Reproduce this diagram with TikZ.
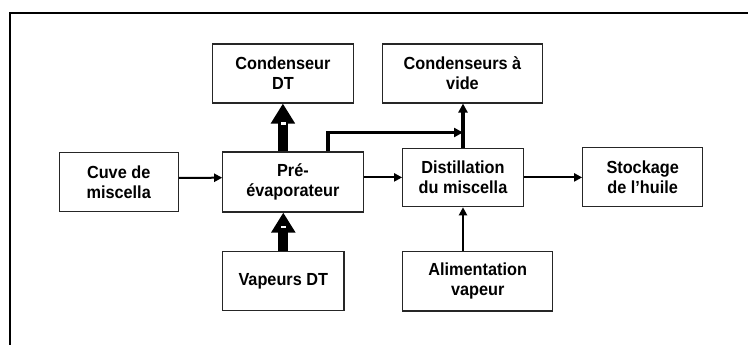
\documentclass[tikz,border=0pt]{standalone}
\usepackage{fontspec}
\setmainfont{Liberation Sans}[FakeStretch=0.93]
\usetikzlibrary{arrows.meta}
\begin{document}
\begin{tikzpicture}[x=1pt,y=-1pt,
  box/.style={draw=black!85,line width=1.1pt,fill=white,align=center,inner sep=0pt,
    font=\fontsize{17.5}{20}\selectfont\bfseries},
  thin/.style={line width=2pt,-{Triangle[length=8pt,width=8pt]}},
  fat/.style={line width=10pt,-{Triangle[length=20pt,width=23pt]}},
  mid/.style={line width=3.2pt,-{Triangle[length=9pt,width=9pt]}}]
\useasboundingbox (0,0) rectangle (748,345);
\draw[line width=2pt] (10,345) -- (10,13.2) -- (748,13.2);
\node[box,minimum width=140.3pt,minimum height=59pt] (cdt) at (282.9,73.5) {Condenseur\\DT};
\node[box,minimum width=159.6pt,minimum height=59pt] (cvide) at (462.5,73.5) {Condenseurs à\\vide};
\node[box,minimum width=119.3pt,minimum height=59pt] (cuve) at (118.7,182.2) {Cuve de\\miscella};
\node[box,minimum width=140.3pt,minimum height=60pt] (pre) at (292.9,182) {Pré-\\évaporateur};
\node[box,minimum width=120.6pt,minimum height=58.7pt] (dist) at (463,177.4) {Distillation\\du miscella};
\node[box,minimum width=120pt,minimum height=59.2pt] (stock) at (642.7,177.1) {Stockage\\de l’huile};
\node[box,minimum width=121.3pt,minimum height=58.3pt] (vdt) at (283.3,280.9) {Vapeurs DT};
\node[box,minimum width=150pt,minimum height=59.3pt] (alim) at (477.7,281.3) {Alimentation\\vapeur};
% thin arrows
\draw[thin] ([yshift=4.3pt]cuve.east) -- ([yshift=4.3pt]pre.west);
\draw[thin] (pre.east |- dist.west) -- (dist.west);
\draw[thin] (dist.east) -- (stock.west |- dist.east);
\draw[thin] (alim.north -| dist.south) -- (dist.south);
% distillation to condenseurs
\draw[line width=4.5pt] (dist.north) -- ([yshift=15pt]dist.north);
\draw[mid] (dist.north) -- (cvide.south -| dist.north);
% elbow from pre-evaporateur
\coordinate (elbow) at ([yshift=15pt]dist.north);
\draw[mid,line join=miter] ([xshift=35pt]pre.north) |- (elbow);
% thick arrows
\draw[fat] (pre.north -| cdt.south) -- (cdt.south);
\draw[fat] (vdt.north) -- (vdt.north |- pre.south);
\fill[white] (281,122.3) rectangle (286,124.7);
\fill[white] (281,225.7) rectangle (286,228.1);
\end{tikzpicture}
\end{document}
